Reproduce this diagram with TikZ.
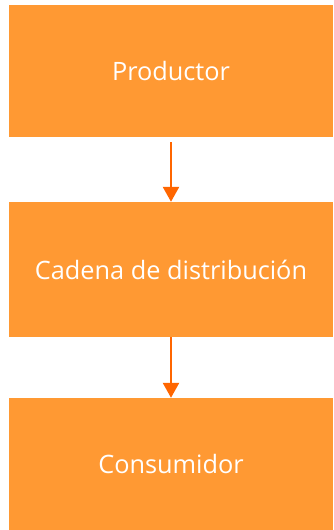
\documentclass[tikz,border=0pt]{standalone}
\usepackage{fontspec}
\setmainfont{Open Sans}
\usetikzlibrary{arrows.meta}
\definecolor{boxfill}{RGB}{255,153,51}
\definecolor{arrowc}{RGB}{255,102,0}
\tikzset{
  stage/.style={fill=boxfill, draw=none, minimum width=324pt, minimum height=132pt, inner sep=0pt, text=white, font=\fontsize{25.3}{30}\selectfont},
  flow/.style={draw=arrowc, line width=2.5pt, -{Triangle[width=16pt,length=15pt]}}
}
\begin{document}
\begin{tikzpicture}[x=1pt,y=-1pt]
\useasboundingbox (0,0) rectangle (333,530);
\node[stage] (p) at (171,71) {Productor};
\node[stage, minimum height=135pt] (c) at (171,269.5) {Cadena de distribución};
\node[stage] (k) at (171,464) {Consumidor};
\draw[flow] ([yshift=-5pt]p.south) -- (c.north);
\draw[flow] (c.south) -- (k.north);
\end{tikzpicture}
\end{document}
